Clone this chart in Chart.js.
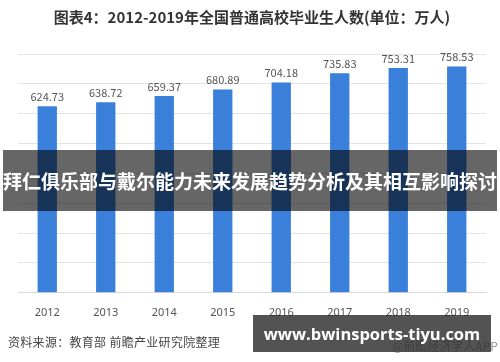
<!DOCTYPE html>
<html><head><meta charset="utf-8">
<script src="https://cdn.jsdelivr.net/npm/chart.js@4.4.1/dist/chart.umd.min.js"></script>
<style>
html,body{margin:0;padding:0;background:#fff;}
#wrap{position:relative;width:500px;height:362px;overflow:hidden;font-family:"Noto Sans CJK SC","Noto Sans",sans-serif;}
canvas{position:absolute;left:0;top:0;}
#src{position:absolute;left:8px;top:333px;font-size:12px;color:#444;letter-spacing:0.3px;}
#wm{position:absolute;left:392px;top:337px;font-size:12px;color:#999;}
#banner{position:absolute;left:3px;top:150px;width:494px;height:61px;background:rgba(0,0,0,0.6);color:#fff;font-weight:bold;font-size:19px;line-height:61px;text-align:center;white-space:nowrap;}
#site{position:absolute;left:253px;top:315px;width:238px;height:37px;background:rgba(40,40,40,0.8);color:#fff;font-weight:bold;font-size:16.5px;line-height:37px;text-align:center;font-family:"Open Sans","Noto Sans",sans-serif;white-space:nowrap;}
</style></head>
<body><div id="wrap">
<canvas id="c" width="500" height="362"></canvas>
<div id="src">资料来源：教育部 前瞻产业研究院整理</div>
<div id="wm">@前瞻经济学人APP</div>
<div id="banner">拜仁俱乐部与戴尔能力未来发展趋势分析及其相互影响探讨</div>
<div id="site">www.bwinsports-tiyu.com</div>
</div>
<script>
const categories = ["2012","2013","2014","2015","2016","2017","2018","2019"];
const graduates = [624.73,638.72,659.37,680.89,704.18,735.83,753.31,758.53];
const titleText = "图表4：2012-2019年全国普通高校毕业生人数(单位：万人)";

const labelPlugin = {
  id:'barLabels',
  afterDatasetsDraw(chart){
    const ctx = chart.ctx;
    const meta = chart.getDatasetMeta(0);
    ctx.save();
    ctx.font = '11px "Noto Sans CJK SC","Noto Sans",sans-serif';
    ctx.fillStyle = '#555';
    ctx.textAlign = 'center';
    ctx.textBaseline = 'bottom';
    meta.data.forEach((bar,i)=>{
      ctx.fillText(graduates[i].toFixed(2), bar.x, bar.y - 4);
    });
    ctx.restore();
  }
};

new Chart(document.getElementById('c'), {
  type:'bar',
  data:{labels:categories, datasets:[{data:graduates, backgroundColor:'#3a7fd9', barPercentage:0.33, categoryPercentage:1.0}]},
  options:{
    responsive:false, animation:false,
    layout:{padding:{left:18,right:14,top:0,bottom:38}},
    plugins:{
      legend:{display:false}, tooltip:{enabled:false},
      title:{display:true, text:titleText, color:'#333', font:{family:'"Noto Sans CJK SC",sans-serif', size:15, weight:'bold'}, padding:{top:8,bottom:28}}
    },
    scales:{
      x:{grid:{display:false}, border:{display:true,color:'#d9d9d9'},
         ticks:{color:'#555', font:{family:'"Noto Sans",sans-serif', size:11}, padding:5}},
      y:{min:0,max:800, ticks:{display:false, stepSize:100}, grid:{color:'#e3e3e3', drawTicks:false}, border:{display:false}}
    }
  },
  plugins:[labelPlugin]
});
</script>
</body></html>
